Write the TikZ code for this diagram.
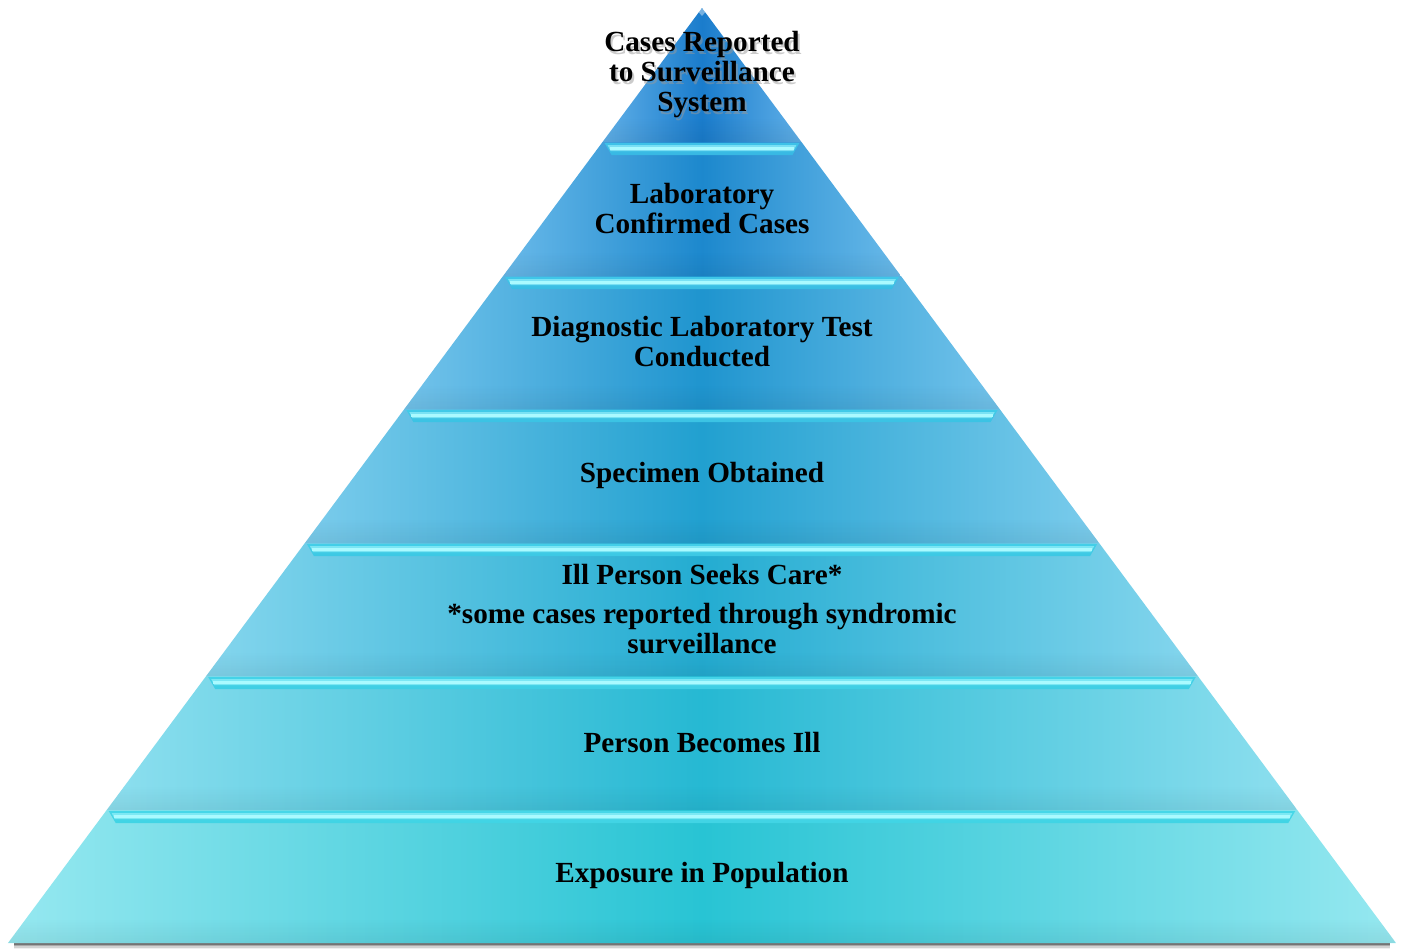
\documentclass[tikz,border=0pt]{standalone}
\usepackage{fontspec}
\setmainfont{Liberation Serif}
\usetikzlibrary{fadings}
\definecolor{ctop}{RGB}{26,124,204}
\definecolor{cbot}{RGB}{40,196,212}
\definecolor{etop}{RGB}{96,176,232}
\definecolor{ebot}{RGB}{150,232,240}
\definecolor{stop}{RGB}{60,190,232}
\definecolor{sbot}{RGB}{70,215,232}
\definecolor{shine}{RGB}{170,250,255}
\tikzset{
  lbl/.style={font=\bfseries\fontsize{14.6}{15}\selectfont, text=black, align=center, inner sep=0pt},
}
\begin{document}
\begin{tikzpicture}[x=0.5pt,y=-0.5pt]
\useasboundingbox (0,0) rectangle (1402,949);
\fill[white] (0,0) rectangle (1402,949);
% drop shadow under the base
\foreach \k/\o in {1/0.3,2/0.2,3/0.12,4/0.06}{
  \fill[black,opacity=\o] (14,943) rectangle (1390,{943+\k*1.5});
}
\foreach \i/\yt/\yb in {0/8/142,1/142/276,2/276/409,3/409/543,4/543/676,5/676/810,6/810/943}{
  \pgfmathsetmacro\wt{0.742246*(\yt-8)}
  \pgfmathsetmacro\wb{0.742246*(\yb-8)}
  \pgfmathtruncatemacro\p{100-\i*100/6}
  \colorlet{mid}{ctop!\p!cbot}
  \colorlet{edge}{etop!\p!ebot}
  \colorlet{strip}{stop!\p!sbot}
  \begin{scope}
    \clip ({702-\wt},\yt) -- ({702+\wt},\yt) -- ({702+\wb},\yb) -- ({702-\wb},\yb) -- cycle;
    \shade[left color=edge, right color=edge, middle color=mid] ({702-\wb},\yt) rectangle ({702+\wb},\yb);
    \fill[black, opacity=0.06, path fading=north] ({702-\wb},{\yb-24}) rectangle ({702+\wb},\yb);
  \end{scope}
  \ifnum\i>0
    \shade[top color=strip, bottom color=strip!80!mid]
      ({702-\wt+2},{\yt+1}) -- ({702+\wt-2},{\yt+1}) -- ({702+\wt-9},{\yt+13}) -- ({702-\wt+9},{\yt+13}) -- cycle;
    \fill[shine, opacity=0.55] ({702-\wt+5},{\yt+3}) -- ({702+\wt-5},{\yt+3}) -- ({702+\wt-8},{\yt+9}) -- ({702-\wt+8},{\yt+9}) -- cycle;
    \fill[shine] ({702-\wt+7},{\yt+4.5}) rectangle ({702+\wt-7},{\yt+7.5});
  \fi
}
% apex highlight
\fill[white,opacity=0.4] (696,9) -- (708,9) -- (702,16) -- cycle;

\node[lbl, text=black!40, opacity=0.5] at (704,78) {Cases Reported\\to Surveillance\\System};
\node[lbl] (n1) at (702,75) {Cases Reported\\to Surveillance\\System};
\node[lbl] (n2) at (702,209) {Laboratory\\Confirmed Cases};
\node[lbl] (n3) at (702,342) {Diagnostic Laboratory Test\\Conducted};
\node[lbl] (n4) at (702,475) {Specimen Obtained};
\node[lbl] (n5a) at (702,574) {Ill Person Seeks Care*};
\node[lbl] (n5b) at (702,629) {*some cases reported through syndromic\\surveillance};
\node[lbl] (n6) at (702,742) {Person Becomes Ill};
\node[lbl] (n7) at (702,875) {Exposure in Population};
\end{tikzpicture}
\end{document}
